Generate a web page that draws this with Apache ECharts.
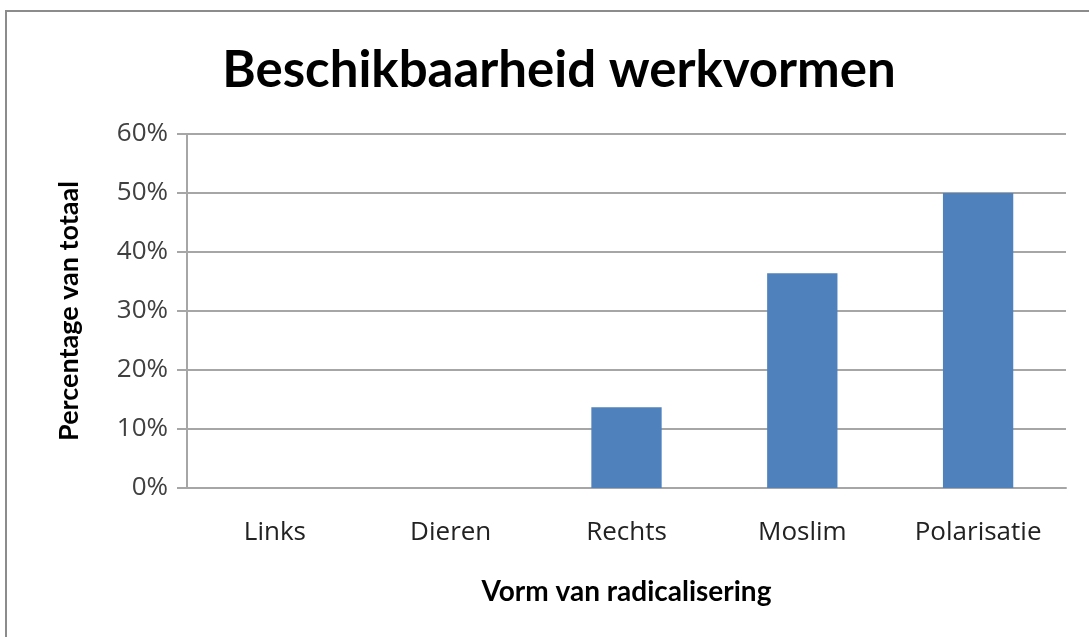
<!DOCTYPE html>
<html>
<head>
<meta charset="utf-8">
<script src="https://cdn.jsdelivr.net/npm/echarts@6/dist/echarts.min.js"></script>
<style>
  html, body { margin: 0; padding: 0; background: #fff; }
  #frame { position: absolute; left: 5px; top: 10px; width: 1100px; height: 640px;
           border-left: 2px solid #8c8c8c; border-top: 2px solid #8c8c8c; }
  #chart { position: absolute; left: 0; top: 0; width: 1089px; height: 637px; }
</style>
</head>
<body>
<div id="frame"></div>
<div id="chart"></div>
<script>
// categorieen en waarden (aandeel van totaal)
var categories = ['Links', 'Dieren', 'Rechts', 'Moslim', 'Polarisatie'];
var values = [0, 0, 0.137, 0.364, 0.5];
var yTicks = [0, 0.1, 0.2, 0.3, 0.4, 0.5, 0.6];

var font = 'Lato, "Open Sans", sans-serif';
var labelFont = '"Open Sans", sans-serif';
var myChart = echarts.init(document.getElementById('chart'));

var option = {
  animation: false,
  title: {
    text: 'Beschikbaarheid werkvormen',
    left: 554,
    top: 40,
    textAlign: 'center',
    textStyle: { fontFamily: font, fontSize: 51, fontWeight: 'bold', color: '#000' }
  },
  grid: { left: 187, right: 23, top: 134, bottom: 149, containLabel: false },
  xAxis: {
    type: 'category',
    data: categories,
    name: 'Vorm van radicalisering',
    nameLocation: 'middle',
    nameGap: 90,
    nameTextStyle: { fontFamily: font, fontSize: 28, fontWeight: 'bold', color: '#000' },
    axisLine: { lineStyle: { color: '#a6a6a6', width: 2 } },
    axisTick: { show: false },
    axisLabel: { fontFamily: labelFont, fontSize: 26, color: '#222', margin: 32 }
  },
  yAxis: {
    type: 'value',
    min: yTicks[0],
    max: yTicks[yTicks.length - 1],
    interval: 0.1,
    name: 'Percentage van totaal',
    nameLocation: 'middle',
    nameGap: 104,
    nameTextStyle: { fontFamily: font, fontSize: 27, fontWeight: 'bold', color: '#000' },
    axisLine: { show: true, lineStyle: { color: '#a6a6a6', width: 2 } },
    axisTick: { show: true, length: 10, lineStyle: { color: '#a6a6a6', width: 2 } },
    splitLine: { lineStyle: { color: '#a6a6a6', width: 2 } },
    axisLabel: {
      fontFamily: labelFont, fontSize: 26, color: '#404040', margin: 19,
      formatter: function (v) { return Math.round(v * 100) + '%'; }
    }
  },
  series: [{
    type: 'bar',
    data: values,
    barWidth: '40%',
    itemStyle: { color: '#4f81bd' }
  }]
};

myChart.setOption(option);
</script>
</body>
</html>
